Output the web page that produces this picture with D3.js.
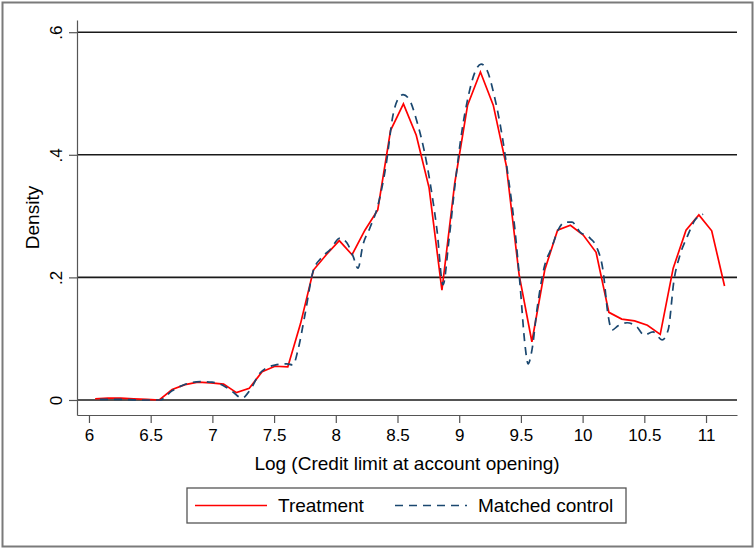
<!DOCTYPE html>
<html>
<head>
<meta charset="utf-8">
<script src="https://cdn.jsdelivr.net/npm/d3@7"></script>
<style>
body { margin: 0; background: #fff; }
svg text { font-family: "Liberation Sans", Arial, sans-serif; fill: #000; }
</style>
</head>
<body>
<div id="chart"></div>
<script>
// kdensity estimates
var treatX = [6.050, 6.154, 6.258, 6.362, 6.466, 6.570, 6.674, 6.779, 6.883, 6.987,
              7.091, 7.195, 7.299, 7.403, 7.507, 7.611, 7.715, 7.819, 7.923, 8.028,
              8.132, 8.236, 8.340, 8.444, 8.548, 8.652, 8.756, 8.860, 8.964, 9.068,
              9.172, 9.276, 9.381, 9.485, 9.589, 9.693, 9.797, 9.901, 10.005, 10.109,
              10.213, 10.317, 10.421, 10.525, 10.629, 10.734, 10.838, 10.942, 11.046, 11.150];
var treatY = [0.002, 0.003, 0.003, 0.002, 0.001, 0.000, 0.017, 0.025, 0.029, 0.028,
              0.026, 0.012, 0.019, 0.046, 0.055, 0.054, 0.125, 0.212, 0.237, 0.260,
              0.237, 0.277, 0.310, 0.440, 0.483, 0.432, 0.346, 0.179, 0.354, 0.481,
              0.535, 0.481, 0.383, 0.205, 0.095, 0.212, 0.277, 0.285, 0.269, 0.241,
              0.143, 0.132, 0.129, 0.122, 0.107, 0.215, 0.277, 0.302, 0.276, 0.186];

var ctrlX = [6.089, 6.251, 6.413, 6.575, 6.673, 6.786, 6.900, 6.997, 7.094, 7.167,
             7.240, 7.305, 7.386, 7.507, 7.604, 7.653, 7.694, 7.750, 7.815, 7.888,
             7.953, 8.034, 8.091, 8.139, 8.180, 8.220, 8.277, 8.342, 8.407, 8.464,
             8.504, 8.545, 8.593, 8.658, 8.715, 8.763, 8.820, 8.869, 8.917, 8.966,
             9.023, 9.071, 9.128, 9.177, 9.225, 9.282, 9.347, 9.395, 9.452, 9.493,
             9.533, 9.558, 9.590, 9.630, 9.687, 9.752, 9.801, 9.857, 9.914, 9.979,
             10.060, 10.117, 10.165, 10.206, 10.238, 10.287, 10.360, 10.441, 10.498, 10.571,
             10.644, 10.693, 10.741, 10.790, 10.847, 10.912, 10.977];
var ctrlY = [0.001, 0.001, 0.000, 0.000, 0.015, 0.026, 0.030, 0.029, 0.023, 0.013,
             0.003, 0.016, 0.044, 0.057, 0.059, 0.057, 0.082, 0.139, 0.209, 0.233,
             0.245, 0.264, 0.256, 0.235, 0.215, 0.253, 0.281, 0.318, 0.383, 0.465,
             0.491, 0.498, 0.491, 0.454, 0.408, 0.356, 0.277, 0.188, 0.261, 0.351,
             0.440, 0.493, 0.535, 0.548, 0.538, 0.498, 0.432, 0.367, 0.277, 0.188,
             0.090, 0.059, 0.082, 0.147, 0.215, 0.250, 0.277, 0.290, 0.290, 0.274,
             0.264, 0.248, 0.212, 0.139, 0.114, 0.121, 0.126, 0.119, 0.106, 0.111,
             0.098, 0.114, 0.196, 0.237, 0.266, 0.294, 0.303];

var xTicks = [6, 6.5, 7, 7.5, 8, 8.5, 9, 9.5, 10, 10.5, 11];
var yTicks = [0, 0.2, 0.4, 0.6];
var seriesNames = ["Treatment", "Matched control"];

var outerWidth = 756, outerHeight = 550;
var plot = {left: 77, right: 737, top: 20, bottom: 415};

var svg = d3.select("#chart")
    .append("svg")
    .attr("width", outerWidth)
    .attr("height", outerHeight);

svg.append("rect")
    .attr("x", 2.5).attr("y", 2.5)
    .attr("width", 750).attr("height", 544)
    .attr("fill", "#fff")
    .attr("stroke", "#7a7a7a")
    .attr("stroke-width", 2);

var xScale = d3.scaleLinear()
    .domain([5.903, 11.251])
    .range([plot.left, plot.right]);

var yScale = d3.scaleLinear()
    .domain([-0.0245, 0.6199])
    .range([plot.bottom, plot.top]);

// horizontal grid lines
svg.selectAll(".grid")
    .data(yTicks)
    .enter()
    .append("line")
    .attr("class", "grid")
    .attr("x1", plot.left)
    .attr("x2", plot.right)
    .attr("y1", d => yScale(d))
    .attr("y2", d => yScale(d))
    .attr("stroke", "#1a1a1a")
    .attr("stroke-width", 1.6);

var xAxis = d3.axisBottom(xScale)
    .tickValues(xTicks)
    .tickSize(8)
    .tickSizeOuter(0)
    .tickPadding(6)
    .tickFormat(d3.format(""));

var gx = svg.append("g")
    .attr("class", "axis x-axis")
    .attr("transform", "translate(0," + plot.bottom + ")")
    .call(xAxis);

var yAxis = d3.axisLeft(yScale)
    .tickValues(yTicks)
    .tickSize(8)
    .tickSizeOuter(0)
    .tickFormat(d => d === 0 ? "0" : d3.format(".1f")(d).replace(/^0/, ""));

var gy = svg.append("g")
    .attr("class", "axis y-axis")
    .attr("transform", "translate(" + plot.left + ",0)")
    .call(yAxis);

svg.selectAll(".axis path, .axis line")
    .attr("stroke", "#555")
    .attr("stroke-width", 1.2);
svg.selectAll(".axis text")
    .style("font-size", "17px")
    .attr("fill", "#000");

// Stata-style vertical y tick labels
gy.selectAll(".tick text")
    .attr("transform", "rotate(-90)")
    .attr("x", 0)
    .attr("y", -15)
    .attr("dy", 0)
    .attr("text-anchor", "middle");

svg.append("text")
    .attr("transform", "translate(39," + ((plot.top + plot.bottom) / 2) + ") rotate(-90)")
    .attr("text-anchor", "middle")
    .style("font-size", "19px")
    .text("Density");

svg.append("text")
    .attr("x", (plot.left + plot.right) / 2)
    .attr("y", 470)
    .attr("text-anchor", "middle")
    .style("font-size", "19px")
    .text("Log (Credit limit at account opening)");

var treatData = treatX.map((x, i) => ({x: x, y: treatY[i]}));
var ctrlData = ctrlX.map((x, i) => ({x: x, y: ctrlY[i]}));

var line = d3.line()
    .x(d => xScale(d.x))
    .y(d => yScale(d.y));

var smoothLine = d3.line()
    .curve(d3.curveMonotoneX)
    .x(d => xScale(d.x))
    .y(d => yScale(d.y));

svg.append("path")
    .datum(treatData)
    .attr("d", line)
    .attr("fill", "none")
    .attr("stroke", "#ff0000")
    .attr("stroke-width", 1.7);

svg.append("path")
    .datum(ctrlData)
    .attr("d", smoothLine)
    .attr("fill", "none")
    .attr("stroke", "#1a476f")
    .attr("stroke-width", 1.7)
    .attr("stroke-dasharray", "8,6");

// legend
var legend = svg.append("g").attr("class", "legend");
legend.append("rect")
    .attr("x", 187).attr("y", 488)
    .attr("width", 439).attr("height", 35)
    .attr("fill", "#fff")
    .attr("stroke", "#555")
    .attr("stroke-width", 1.3);

var legendItems = [
    {name: seriesNames[0], color: "#ff0000", dash: null, x0: 195, tx: 278},
    {name: seriesNames[1], color: "#1a476f", dash: "8,6", x0: 395, tx: 478}
];

legendItems.forEach(function(it) {
    legend.append("line")
        .attr("x1", it.x0).attr("x2", it.x0 + 72)
        .attr("y1", 505.5).attr("y2", 505.5)
        .attr("stroke", it.color)
        .attr("stroke-width", 1.7)
        .attr("stroke-dasharray", it.dash);
    legend.append("text")
        .attr("x", it.tx)
        .attr("y", 512)
        .style("font-size", "19px")
        .text(it.name);
});
</script>
</body>
</html>
